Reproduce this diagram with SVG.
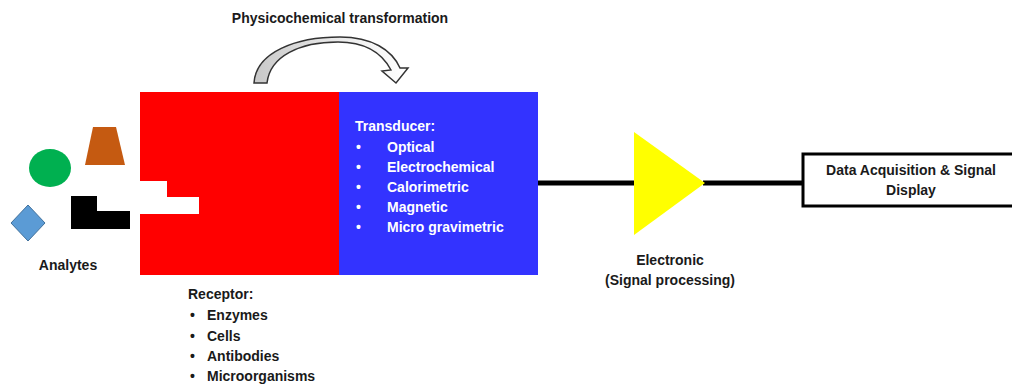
<svg xmlns="http://www.w3.org/2000/svg" width="1012" height="385" viewBox="0 0 1012 385">
<defs>
<linearGradient id="arcGrad" x1="0" y1="0" x2="1" y2="0">
<stop offset="0" stop-color="#c8c8c8"/>
<stop offset="0.6" stop-color="#eeeeee"/>
<stop offset="1" stop-color="#ffffff"/>
</linearGradient>
</defs>
<style>
text { font-family: "Liberation Sans", Arial, sans-serif; font-weight: bold; font-size: 14px; fill: #1a1a1a; }
.w { fill: #ffffff; }
.wire { stroke: #000000; stroke-width: 5; fill: none; }
</style>
<rect width="1012" height="385" fill="#ffffff"/>

<g id="analytes">
<ellipse cx="50" cy="168" rx="21" ry="19" fill="#00b050"/>
<polygon points="93,127 116,127 125,165 85,165" fill="#c55a11"/>
<polygon points="71,196 97,196 97,211 130,211 130,229 71,229" fill="#000000"/>
<polygon points="28,205 45,223 28,241 11,223" fill="#5b9bd5" stroke="#41719c" stroke-width="1"/>
<text x="68" y="270" text-anchor="middle">Analytes</text>
</g>

<g id="receptor">
<polygon points="140,92 340,92 340,275 140,275 140,214 199,214 199,197 167,197 167,181 140,181" fill="#ff0000"/>
<text x="188" y="299">Receptor:</text>
<text x="190" y="320">•</text><text x="207" y="320">Enzymes</text>
<text x="190" y="341">•</text><text x="207" y="341">Cells</text>
<text x="190" y="361">•</text><text x="207" y="361">Antibodies</text>
<text x="190" y="381">•</text><text x="207" y="381">Microorganisms</text>
</g>

<g id="transducer">
<rect x="339" y="92" width="199" height="183" fill="#3333ff"/>
<text class="w" x="355" y="131">Transducer:</text>
<text class="w" x="356" y="152">•</text><text class="w" x="387" y="152">Optical</text>
<text class="w" x="356" y="172">•</text><text class="w" x="387" y="172">Electrochemical</text>
<text class="w" x="356" y="192">•</text><text class="w" x="387" y="192">Calorimetric</text>
<text class="w" x="356" y="212">•</text><text class="w" x="387" y="212">Magnetic</text>
<text class="w" x="356" y="232">•</text><text class="w" x="387" y="232">Micro gravimetric</text>
</g>

<g id="transformation">
<text x="340" y="23" text-anchor="middle">Physicochemical transformation</text>
<path d="M 254 83 C 256 52, 296 37, 340 37 C 372 37, 392 50, 400 68 L 408 68 L 396 83 L 382 71 L 391 70 C 382 53, 366 42, 338 42 C 300 42, 270 56, 267 83 Z" fill="url(#arcGrad)" stroke="#333333" stroke-width="1.5" stroke-linejoin="miter"/>
</g>

<g id="connectors">
<line class="wire" x1="538" y1="183" x2="636" y2="183"/>
<line class="wire" x1="703" y1="183" x2="803" y2="183"/>
</g>

<g id="electronic">
<polygon points="634,132 705,183 634,235" fill="#ffff00"/>
<text x="670" y="265" text-anchor="middle">Electronic</text>
<text x="670" y="285" text-anchor="middle">(Signal processing)</text>
</g>

<g id="display">
<rect x="803" y="154" width="220" height="52" fill="#ffffff" stroke="#000000" stroke-width="3"/>
<text x="911" y="175" text-anchor="middle">Data Acquisition &amp; Signal</text>
<text x="911" y="195" text-anchor="middle">Display</text>
</g>
</svg>
